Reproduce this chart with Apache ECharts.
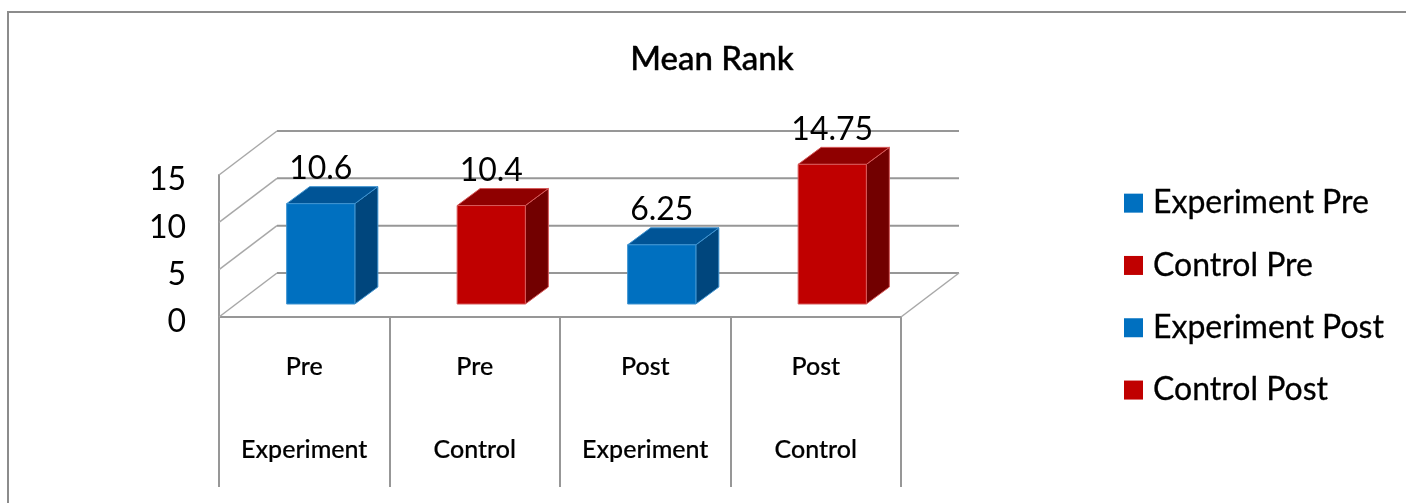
<!DOCTYPE html>
<html lang="en">
<head>
	<meta charset="UTF-8">
	<title>Mean Rank</title>
	<style>
		html, body { margin: 0; padding: 0; background: #fff; }
		#chart { width: 1406px; height: 503px; }
	</style>
</head>
<body>
	<div id="chart"></div>
	<script src="https://cdn.jsdelivr.net/npm/echarts@6/dist/echarts.min.js"></script>
	<script>
		// data
		var groupTop = ['Pre', 'Pre', 'Post', 'Post'];
		var groupBottom = ['Experiment', 'Control', 'Experiment', 'Control'];
		var seriesNames = ['Experiment Pre', 'Control Pre', 'Experiment Post', 'Control Post'];
		var seriesValues = [10.6, 10.4, 6.25, 14.75];
		var yTicks = [0, 5, 10, 15];

		// front, top and side colours of the two bar kinds
		var blue = ['#0070c0', '#005496', '#00467d', '#3f93d0'];
		var red = ['#c00000', '#8f0000', '#720000', '#d65a5a'];
		var palette = [blue, red, blue, red];

		var font = 'Lato, sans-serif';
		var gridColor = '#979797';

		// wall depth and bar depth, in pixels
		var wallDx = 58, wallDy = -44;
		var barDx = 23, barDy = -17;
		var barShiftX = 16.5, barShiftY = -13;

		var chart = echarts.init(document.getElementById('chart'));

		// perspective gridlines on the back and side walls
		function renderWall(params, api) {
			var left = api.coord([0, api.value(0)]);
			var band = api.size([1, 0])[0];
			var x0 = left[0] - band / 2;
			var x1 = x0 + band * groupTop.length;
			var y = left[1];
			return {
				type: 'group',
				children: [{
					type: 'line',
					shape: { x1: x0 + wallDx, y1: y + wallDy, x2: x1 + wallDx, y2: y + wallDy },
					style: { stroke: gridColor, lineWidth: 2 }
				}, {
					type: 'line',
					shape: { x1: x0, y1: y, x2: x0 + wallDx, y2: y + wallDy },
					style: { stroke: '#a8a8a8', lineWidth: 1.5 }
				}].concat(api.value(0) === 0 ? [{
					type: 'line',
					shape: { x1: x1, y1: y, x2: x1 + wallDx, y2: y + wallDy },
					style: { stroke: '#a8a8a8', lineWidth: 1.5 }
				}] : [])
			};
		}

		function renderBar(params, api) {
			var colors = palette[params.seriesIndex - 1];
			var cat = api.value(0);
			var val = api.value(1);
			var w = api.size([1, 0])[0] * 0.4;
			var c = api.coord([cat, val]);
			var b = api.coord([cat, 0]);
			var x0 = c[0] + barShiftX - w / 2;
			var x1 = x0 + w;
			var top = c[1] + barShiftY;
			var bot = b[1] + barShiftY;
			return {
				type: 'group',
				children: [{
					type: 'polygon',
					shape: { points: [[x1, bot], [x1 + barDx, bot + barDy], [x1 + barDx, top + barDy], [x1, top]] },
					style: { fill: colors[2], stroke: colors[3], lineWidth: 1 }
				}, {
					type: 'polygon',
					shape: { points: [[x0, top], [x1, top], [x1 + barDx, top + barDy], [x0 + barDx, top + barDy]] },
					style: { fill: colors[1], stroke: colors[3], lineWidth: 1 }
				}, {
					type: 'rect',
					shape: { x: x0, y: top, width: w, height: bot - top },
					style: { fill: colors[0], stroke: colors[3], lineWidth: 1 }
				}, {
					type: 'text',
					x: x0 + w / 2,
					y: top - 35,
					style: {
						text: String(val),
						fill: '#000',
						font: '32px ' + font,
						align: 'center',
						verticalAlign: 'middle'
					}
				}]
			};
		}

		var series = [{
			type: 'custom',
			name: 'walls',
			silent: true,
			z: 1,
			coordinateSystem: 'cartesian2d',
			encode: { y: 0 },
			data: yTicks.map(function (t) { return [t]; }),
			renderItem: renderWall
		}];
		seriesNames.forEach(function (name, i) {
			series.push({
				type: 'custom',
				name: name,
				z: 2,
				itemStyle: { color: palette[i][0] },
				encode: { x: 0, y: 1 },
				data: [[i, seriesValues[i]]],
				renderItem: renderBar
			});
		});

		var option = {
			animation: false,
			backgroundColor: '#fff',
			title: {
				text: 'Mean Rank',
				left: 707,
				top: 38,
				textAlign: 'center',
				textStyle: { fontFamily: font, fontSize: 33, fontWeight: 500, color: '#000', textBorderColor: '#000', textBorderWidth: 0.4 }
			},
			legend: {
				orient: 'vertical',
				left: 1124,
				top: 187,
				padding: 0,
				itemWidth: 19,
				itemHeight: 19,
				itemGap: 30,
				icon: 'rect',
				data: seriesNames,
				textStyle: { fontFamily: font, fontSize: 32, color: '#000', lineHeight: 32, padding: [0, 0, 0, 5], textBorderColor: '#000', textBorderWidth: 0.3 }
			},
			grid: { left: 219, right: 505, top: 175, bottom: 186 },
			xAxis: {
				type: 'category',
				data: groupTop.map(function (t, i) { return t + '\n' + groupBottom[i]; }),
				axisLine: { show: true, lineStyle: { color: gridColor, width: 2 } },
				axisTick: { show: true, length: 170, lineStyle: { color: gridColor, width: 2 } },
				axisLabel: {
					interval: 0,
					margin: 8,
					color: '#000',
					fontFamily: font,
					fontSize: 25,
					fontWeight: 500,
					lineHeight: 83,
					textBorderColor: '#000',
					textBorderWidth: 0.2
				},
				splitLine: { show: false }
			},
			yAxis: {
				type: 'value',
				min: 0,
				max: 15,
				interval: 5,
				axisLine: { show: true, lineStyle: { color: gridColor, width: 2 } },
				axisTick: { show: false },
				splitLine: { show: false },
				axisLabel: {
					margin: 33,
					color: '#000',
					fontFamily: font,
					fontSize: 32,
					verticalAlign: 'top',
					lineHeight: 10
				}
			},
			// outer frame of the picture, left and top sides only
			graphic: [{
				type: 'polyline',
				shape: { points: [[8, 503], [8, 12], [1406, 12]] },
				style: { stroke: '#8c8c8c', lineWidth: 2, fill: 'none' }
			}],
			series: series
		};

		chart.setOption(option);
	</script>
</body>
</html>
